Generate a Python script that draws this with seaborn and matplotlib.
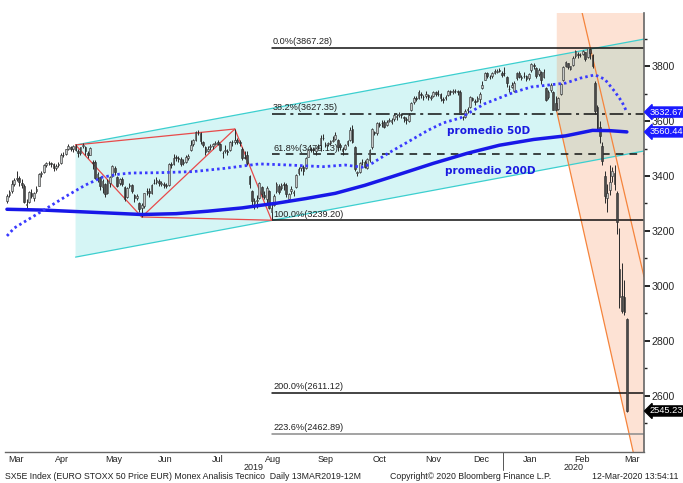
import numpy as np
import pandas as pd
import matplotlib
matplotlib.use("Agg")
import matplotlib.pyplot as plt
import matplotlib.transforms as mtransforms
from matplotlib.patches import Polygon
import seaborn as sns

sns.set_style("white")
plt.rcParams['font.family'] = ['Liberation Sans', 'DejaVu Sans']

# trading calendar (STOXX holidays removed)
holidays = ['2019-04-19', '2019-04-22', '2019-05-01', '2019-12-24', '2019-12-25',
            '2019-12-26', '2019-12-31', '2020-01-01']
dates = pd.bdate_range('2019-03-13', '2020-03-12')
dates = dates[~dates.isin(pd.to_datetime(holidays))]

# daily OHLC (one row per month)
opens = [
    3310, 3330, 3345, 3370, 3390, 3393, 3375, 3365, 3295, 3305, 3340, 3320, 3345,
    3365, 3408, 3415, 3440, 3447, 3446, 3442, 3428, 3440, 3448, 3478, 3480, 3500, 3505, 3498, 3510, 3490, 3482, 3508, 3505,
    3485, 3478, 3450, 3450, 3398, 3395, 3360, 3370, 3340, 3375, 3400, 3430, 3395, 3375, 3390, 3360, 3325, 3362, 3368, 3330, 3320, 3300,
    3285, 3290, 3345, 3345, 3340, 3375, 3378, 3382, 3372, 3370, 3368, 3368, 3445, 3445, 3468, 3465, 3462, 3448, 3452, 3465,
    3495, 3515, 3532, 3558, 3555, 3522, 3505, 3492, 3505, 3508, 3518, 3522, 3515, 3485, 3490, 3490, 3495, 3525, 3525, 3530, 3525, 3500, 3470,
    3475, 3400, 3345, 3300, 3310, 3320, 3360, 3330, 3315, 3345, 3270, 3295, 3345, 3365, 3355, 3370, 3368, 3318, 3345, 3340, 3360, 3410,
    3428, 3432, 3428, 3470, 3495, 3498, 3490, 3505, 3512, 3540, 3515, 3515, 3520, 3528, 3535, 3530, 3512, 3500, 3500, 3515, 3530,
    3572, 3505, 3410, 3415, 3450, 3450, 3430, 3460, 3505, 3560, 3558, 3590, 3592, 3595, 3585, 3600, 3598, 3608, 3615, 3622, 3625, 3615, 3608,
    3600, 3640, 3668, 3685, 3685, 3700, 3688, 3690, 3695, 3685, 3690, 3705, 3700, 3698, 3680, 3682, 3695, 3708, 3705, 3710, 3708,
    3705, 3615, 3615, 3640, 3650, 3682, 3672, 3672, 3680, 3720, 3750, 3775, 3760, 3765, 3775, 3780, 3785, 3775,
    3775, 3760, 3715, 3725, 3710, 3755, 3775, 3758, 3765, 3762, 3755, 3785, 3805, 3792, 3770, 3780, 3760, 3720, 3688, 3712, 3705, 3665,
    3645, 3700, 3750, 3800, 3810, 3790, 3805, 3835, 3845, 3842, 3845, 3850, 3832, 3862, 3840, 3740, 3650, 3580, 3510, 3400,
    3320, 3350, 3400, 3410, 3340, 3060, 2965, 2960, 2880,
]
highs = [
    3335, 3350, 3385, 3392, 3418, 3400, 3390, 3370, 3315, 3345, 3352, 3342, 3362,
    3412, 3418, 3445, 3452, 3455, 3452, 3446, 3442, 3450, 3482, 3488, 3500, 3518, 3510, 3512, 3518, 3500, 3506, 3520, 3510,
    3492, 3506, 3460, 3458, 3415, 3398, 3388, 3375, 3388, 3400, 3440, 3435, 3400, 3392, 3395, 3365, 3360, 3375, 3372, 3335, 3335, 3305,
    3300, 3340, 3355, 3355, 3372, 3388, 3395, 3388, 3382, 3378, 3375, 3448, 3452, 3480, 3478, 3472, 3468, 3462, 3475, 3480,
    3530, 3535, 3562, 3566, 3560, 3528, 3510, 3508, 3518, 3520, 3528, 3530, 3520, 3490, 3512, 3500, 3528, 3532, 3571, 3540, 3532, 3505, 3490,
    3490, 3405, 3350, 3320, 3330, 3380, 3365, 3345, 3365, 3350, 3300, 3335, 3378, 3372, 3375, 3380, 3375, 3340, 3365, 3350, 3408, 3432,
    3440, 3440, 3470, 3500, 3505, 3505, 3505, 3515, 3550, 3552, 3525, 3525, 3530, 3545, 3560, 3535, 3520, 3505, 3518, 3530, 3580,
    3585, 3510, 3420, 3450, 3462, 3458, 3465, 3498, 3575, 3565, 3598, 3596, 3605, 3605, 3605, 3612, 3610, 3628, 3625, 3632, 3630, 3620, 3615,
    3628, 3668, 3690, 3690, 3712, 3705, 3695, 3708, 3700, 3695, 3710, 3710, 3712, 3702, 3688, 3695, 3712, 3712, 3716, 3715, 3712,
    3712, 3620, 3645, 3650, 3690, 3688, 3680, 3690, 3705, 3745, 3778, 3780, 3768, 3778, 3788, 3790, 3792, 3782,
    3795, 3765, 3730, 3742, 3745, 3780, 3782, 3768, 3780, 3768, 3775, 3812, 3810, 3798, 3792, 3782, 3790, 3725, 3712, 3738, 3710, 3690,
    3688, 3740, 3800, 3818, 3812, 3802, 3835, 3858, 3850, 3848, 3858, 3852, 3867.28, 3866, 3845, 3745, 3660, 3600, 3525, 3420,
    3370, 3440, 3432, 3440, 3345, 3210, 3085, 3020, 2884,
]
lows = [
    3300, 3322, 3340, 3365, 3383, 3365, 3355, 3300, 3285, 3300, 3320, 3310, 3340,
    3365, 3398, 3412, 3432, 3440, 3432, 3420, 3422, 3432, 3445, 3470, 3476, 3496, 3490, 3488, 3492, 3470, 3475, 3502, 3478,
    3465, 3475, 3425, 3390, 3380, 3350, 3340, 3325, 3335, 3360, 3395, 3405, 3360, 3368, 3365, 3310, 3320, 3355, 3340, 3305, 3312, 3270,
    3251, 3285, 3330, 3325, 3335, 3370, 3372, 3365, 3362, 3355, 3355, 3362, 3430, 3440, 3455, 3450, 3438, 3440, 3448, 3458,
    3492, 3510, 3528, 3550, 3515, 3505, 3478, 3488, 3495, 3500, 3512, 3512, 3490, 3465, 3485, 3478, 3492, 3510, 3515, 3515, 3510, 3460, 3462,
    3440, 3355, 3290, 3280, 3285, 3315, 3325, 3315, 3300, 3280, 3239.2, 3290, 3340, 3335, 3350, 3350, 3325, 3310, 3335, 3328, 3355, 3405,
    3420, 3405, 3425, 3468, 3488, 3485, 3475, 3498, 3490, 3532, 3505, 3508, 3512, 3522, 3530, 3490, 3495, 3475, 3495, 3510, 3528,
    3520, 3420, 3400, 3410, 3440, 3428, 3425, 3450, 3500, 3548, 3550, 3578, 3580, 3575, 3582, 3595, 3590, 3600, 3605, 3615, 3612, 3598, 3590,
    3595, 3638, 3662, 3672, 3680, 3685, 3675, 3682, 3675, 3675, 3688, 3690, 3692, 3672, 3665, 3675, 3692, 3695, 3700, 3702, 3695,
    3625, 3605, 3612, 3630, 3648, 3672, 3660, 3668, 3665, 3715, 3748, 3755, 3752, 3758, 3770, 3775, 3778, 3760,
    3765, 3725, 3705, 3720, 3705, 3750, 3755, 3750, 3758, 3745, 3748, 3780, 3790, 3755, 3765, 3735, 3755, 3672, 3680, 3705, 3640, 3635,
    3640, 3695, 3745, 3795, 3790, 3785, 3800, 3830, 3830, 3832, 3840, 3818, 3830, 3825, 3792, 3625, 3565, 3520, 3440, 3300,
    3270, 3330, 3380, 3350, 3190, 2920, 2900, 2895, 2540,
]
closes = [
    3329, 3342, 3372, 3387, 3394, 3378, 3369, 3305, 3299, 3341, 3328, 3340, 3352,
    3409, 3410, 3441, 3446, 3448, 3445, 3430, 3437, 3442, 3478, 3477, 3497, 3508, 3500, 3510, 3496, 3483, 3504, 3514, 3490,
    3476, 3503, 3448, 3394, 3409, 3365, 3383, 3333, 3382, 3397, 3438, 3413, 3365, 3388, 3371, 3317, 3357, 3369, 3347, 3319, 3327, 3280,
    3293, 3338, 3347, 3339, 3368, 3376, 3385, 3375, 3373, 3367, 3364, 3443, 3439, 3466, 3467, 3461, 3444, 3450, 3468, 3474,
    3514, 3530, 3560, 3557, 3528, 3511, 3489, 3498, 3510, 3515, 3520, 3518, 3495, 3482, 3494, 3487, 3523, 3522, 3531, 3524, 3520, 3466, 3467,
    3449, 3372, 3310, 3309, 3311, 3375, 3333, 3323, 3358, 3283, 3282, 3329, 3371, 3343, 3366, 3366, 3334, 3335, 3353, 3342, 3404, 3427,
    3435, 3417, 3467, 3495, 3495, 3496, 3501, 3510, 3537, 3540, 3516, 3520, 3527, 3531, 3551, 3507, 3507, 3490, 3512, 3526, 3569,
    3525, 3425, 3413, 3447, 3452, 3432, 3462, 3494, 3570, 3557, 3594, 3586, 3594, 3580, 3597, 3605, 3605, 3621, 3618, 3626, 3621, 3612, 3604,
    3623, 3666, 3685, 3679, 3707, 3696, 3686, 3699, 3686, 3687, 3705, 3697, 3699, 3685, 3678, 3688, 3708, 3704, 3711, 3709, 3704,
    3627, 3615, 3638, 3645, 3686, 3678, 3670, 3684, 3698, 3732, 3773, 3762, 3761, 3774, 3782, 3782, 3781, 3766,
    3773, 3737, 3717, 3730, 3739, 3773, 3760, 3760, 3765, 3753, 3771, 3808, 3799, 3762, 3785, 3751, 3779, 3677, 3707, 3732, 3641, 3640,
    3685, 3735, 3798, 3815, 3798, 3799, 3831, 3853, 3840, 3841, 3856, 3826, 3865, 3846, 3800, 3635, 3572, 3545, 3455, 3329,
    3337, 3379, 3420, 3370, 3232, 2959, 2910, 2906, 2545.23,
]

# moving averages (trading-day index, value)
ma50_idx = [0, 3, 15, 25, 32, 39, 46, 51, 62, 76, 89, 103, 115, 129, 138, 145, 149, 156,
            165, 172, 178, 185, 195, 207, 214, 221, 228, 234, 240, 244, 248, 251, 253]
ma50_val = [3182, 3211, 3276, 3331, 3367, 3396, 3407, 3411, 3412, 3416, 3428, 3444, 3440,
            3434, 3440, 3432, 3446, 3485, 3531, 3567, 3593, 3611, 3663, 3705, 3724, 3731,
            3738, 3756, 3768, 3752, 3708, 3670, 3632.67]
ma200_idx = [0, 15, 35, 55, 69, 82, 96, 104, 110, 122, 134, 146, 157, 174, 188, 201, 215,
             228, 239, 246, 253]
ma200_val = [3279, 3276, 3268, 3260, 3263, 3272, 3284, 3294, 3301, 3318, 3337, 3366, 3397,
             3446, 3483, 3512, 3533, 3546, 3566, 3565, 3560.44]

# fibonacci retracement levels
fib_pct = ['0.0%', '38.2%', '61.8%', '100.0%', '200.0%', '223.6%']
fib_val = [3867.28, 3627.35, 3479.13, 3239.20, 2611.12, 2462.89]
fib_style = ['-', (0, (9, 3, 2, 3)), (0, (5, 4)), '-', '-', '-']
fib_color = ['#111111', '#111111', '#111111', '#111111', '#111111', '#8a8a8a']
fib_start = 108

# red zigzag (Apr high, Jun low, Jul high, Aug low)
zz_idx = [28, 55, 93, 108]
zz_val = [3513, 3251, 3571, 3239.2]

# ascending channel (cyan) and falling channel (orange)
chan_idx = [28, 260]
chan_up = [3513, 3898]
chan_lo = [3105, 3491]
fall_left_idx = [224.4, 258.0]
fall_left_val = [3634, 2300]
fall_right_idx = [232.0, 260.0]
fall_right_val = [4098, 3034]

last_labels = [(3632.67, '#1a1aff'), (3560.44, '#1a1aff'), (2545.23, '#000000')]

YMIN, YMAX = 2396, 3993
XMIN, XMAX = -0.8, 260.0

fig = plt.figure(figsize=(6.83, 4.83), dpi=100)
ax = fig.add_axes([5 / 683, 31 / 483, 639 / 683, 439 / 483])
ax.set_xlim(XMIN, XMAX)
ax.set_ylim(YMIN, YMAX)

# background zones
cyan_xy = [(chan_idx[0], chan_lo[0]), (chan_idx[0], chan_up[0]),
           (chan_idx[1], chan_up[1]), (chan_idx[1], chan_lo[1])]
cyan = Polygon(cyan_xy, closed=True, fc='#d5f5f5', ec='none', zorder=0.6)
ax.add_patch(cyan)
bottom_x = fall_left_idx[0] + (fall_left_val[0] - YMIN) * (fall_left_idx[1] - fall_left_idx[0]) / (fall_left_val[0] - fall_left_val[1])
salmon_xy = [(fall_left_idx[0], YMAX + 50), (XMAX + 5, YMAX + 50), (XMAX + 5, YMIN - 50),
             (bottom_x, YMIN), (fall_left_idx[0], fall_left_val[0])]
ax.add_patch(Polygon(salmon_xy, closed=True, fc='#fde2d4', ec='none', zorder=0.5))
overlap = Polygon(salmon_xy, closed=True, fc='#dcdbcc', ec='none', zorder=0.7)
ax.add_patch(overlap)
overlap.set_clip_path(cyan)

ax.plot(chan_idx, chan_up, color='#3ccfcf', lw=0.9, zorder=2)
ax.plot(chan_idx, chan_lo, color='#3ccfcf', lw=0.9, zorder=2)
ax.plot(fall_left_idx, fall_left_val, color='#f5843c', lw=0.9, zorder=2)
ax.plot(fall_right_idx, fall_right_val, color='#f5843c', lw=0.9, zorder=2)

# fibonacci lines and labels
for pct, val, ls, col in zip(fib_pct, fib_val, fib_style, fib_color):
    ax.plot([fib_start, XMAX], [val, val], color=col, lw=1.1, linestyle=ls, zorder=2)
    ax.text(fib_start + 0.6, val + 6, f'{pct}({val:.2f})', fontsize=6.6,
            ha='left', va='bottom', color='#222222', zorder=5)

# red zigzag
red = '#e84a4a'
ax.plot(zz_idx, zz_val, color=red, lw=0.9, zorder=2)
ax.plot([zz_idx[0], zz_idx[2]], [zz_val[0], zz_val[2]], color=red, lw=0.9, zorder=2)
ax.plot([zz_idx[1], zz_idx[3]], [zz_val[1], zz_val[3]], color=red, lw=0.9, zorder=2)

# candles
x = np.arange(len(dates))
o = np.array(opens, float)
h = np.array(highs, float)
l = np.array(lows, float)
c = np.array(closes, float)
up = c >= o
ax.vlines(x, l, h, color='#2a2a2a', lw=0.7, zorder=3)
ax.bar(x[up], (c - o)[up], bottom=o[up], width=0.7, color='#c4c8c8',
       edgecolor='#2a2a2a', linewidth=0.4, zorder=3.1)
ax.bar(x[~up], (o - c)[~up], bottom=c[~up], width=0.7, color='#4a4a4a',
       edgecolor='#2a2a2a', linewidth=0.4, zorder=3.1)

# moving averages
sns.lineplot(x=ma200_idx, y=ma200_val, ax=ax, color='#1818e8', lw=2.5, zorder=4)
sns.lineplot(x=ma50_idx, y=ma50_val, ax=ax, color='#3a3aff', lw=2.0,
             linestyle=(0, (0.9, 1.1)), zorder=4)

ax.text(179.6, 3564, 'promedio 50D', color='#1a1ae0', fontsize=7.6,
        fontweight='bold', family='DejaVu Sans', ha='left', va='center', zorder=5)
ax.text(178.8, 3418, 'promedio 200D', color='#1a1ae0', fontsize=7.6,
        fontweight='bold', family='DejaVu Sans', ha='left', va='center', zorder=5)

# right axis
ax.yaxis.tick_right()
ax.set_yticks(np.arange(2600, 3801, 200))
ax.set_yticks(np.arange(2500, 3901, 100), minor=True)
ax.tick_params(axis='y', which='major', direction='out', length=4, width=1.4,
               color='#222222', labelsize=7.6, pad=1.5)
ax.tick_params(axis='y', which='minor', direction='out', length=2.5, width=1.0, color='#222222')
for s in ['left', 'top']:
    ax.spines[s].set_visible(False)
ax.spines['right'].set_color('#666666')
ax.spines['right'].set_linewidth(1.2)
ax.spines['bottom'].set_color('#666666')
ax.spines['bottom'].set_linewidth(1.0)
ax.set_xlabel('')
ax.set_ylabel('')

trans_y = mtransforms.blended_transform_factory(ax.transAxes, ax.transData)
for val, col in last_labels:
    ax.text(1.009, val, f'{val:.2f}', transform=trans_y, fontsize=6.7, color='white',
            ha='left', va='center', zorder=6, clip_on=False,
            bbox=dict(boxstyle='larrow,pad=0.06', fc=col, ec=col))

# month ticks and labels
months = dates.to_period('M')
firsts = [i for i in range(len(dates)) if i == 0 or months[i] != months[i - 1]]
ax.set_xticks([i - 0.5 for i in firsts[1:]])
ax.set_xticklabels([])
ax.tick_params(axis='x', direction='out', length=2.5, width=0.8, color='#333333')
trans_x = mtransforms.blended_transform_factory(ax.transData, ax.transAxes)
bounds = firsts + [len(dates)]
for k in range(len(firsts)):
    a, b = bounds[k], bounds[k + 1] - 1
    mid = (a + b) / 2
    if k == 0:
        mid = 3.5
    if k == len(firsts) - 1:
        mid = 255
    ax.text(mid, -0.006, dates[a].strftime('%b'), transform=trans_x, fontsize=6.5,
            ha='center', va='top', color='#222222', clip_on=False)
jan = [i for i in firsts if dates[i].month == 1][0]
ax.text((XMIN + jan - 0.5) / 2, -0.025, '2019', transform=trans_x, fontsize=6.5,
        ha='center', va='top', color='#222222', clip_on=False)
ax.text((jan - 0.5 + XMAX) / 2, -0.025, '2020', transform=trans_x, fontsize=6.5,
        ha='center', va='top', color='#222222', clip_on=False)
ax.plot([jan - 0.5, jan - 0.5], [0, -0.042], transform=trans_x, color='#555555',
        lw=0.7, clip_on=False)

# footer
fig.text(0.008, 0.013, 'SX5E Index (EURO STOXX 50 Price EUR) Monex Analisis Tecnico  Daily 13MAR2019-12M',
         fontsize=6.3, ha='left', va='center', color='#222222')
fig.text(0.571, 0.013, 'Copyright\u00a9 2020 Bloomberg Finance L.P.',
         fontsize=6.3, ha='left', va='center', color='#222222')
fig.text(0.993, 0.013, '12-Mar-2020 13:54:11', fontsize=6.3, ha='right', va='center', color='#222222')

fig.savefig('out.png', dpi=100)
